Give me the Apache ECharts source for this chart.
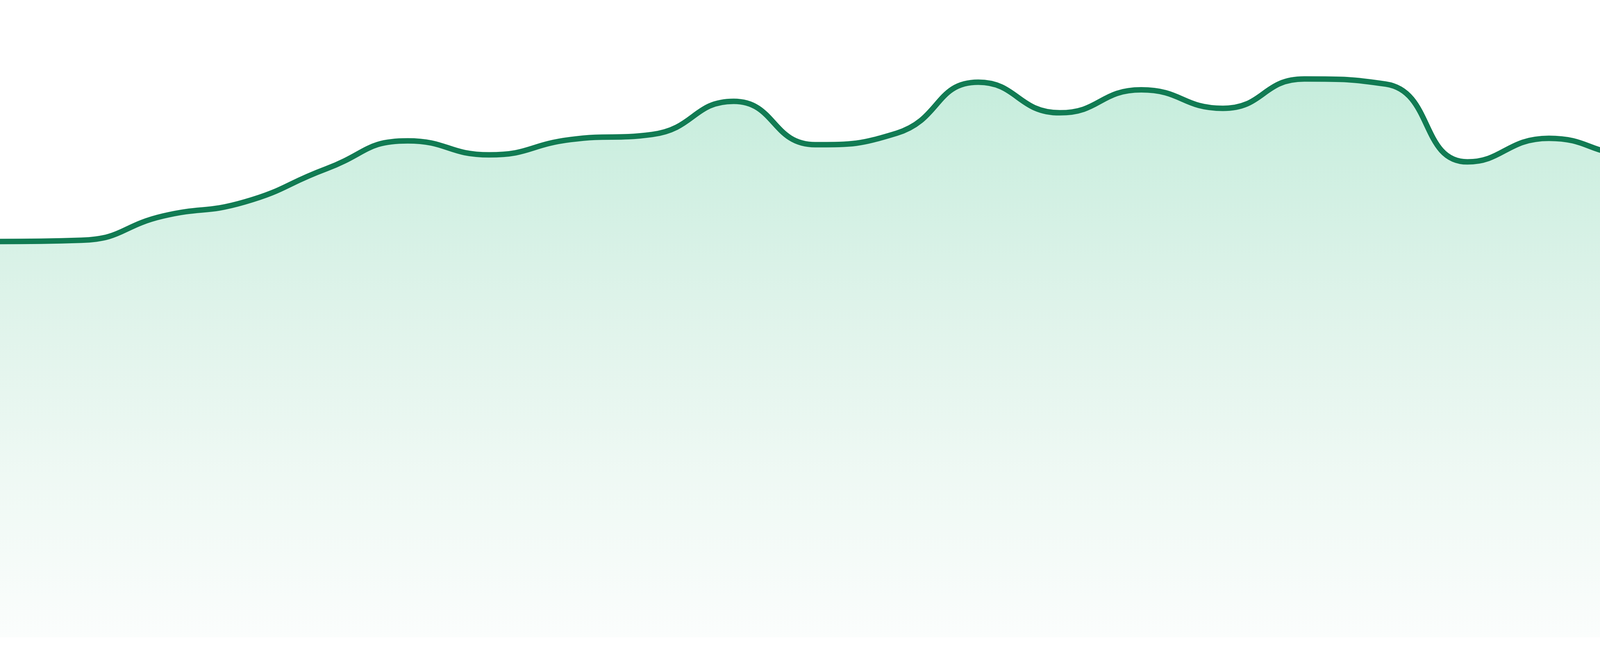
<!DOCTYPE html>
<html>
<head>
<meta charset="utf-8">
<style>
html, body { margin: 0; padding: 0; background: #ffffff; }
#chart { width: 4800px; height: 1680px; }
</style>
<script src="https://cdn.jsdelivr.net/npm/echarts@6/dist/echarts.min.js"></script>
</head>
<body>
<div id="chart"></div>
<script>
const categories = ['1','2','3','4','5','6','7','8','9','10','11','12','13','14','15','16','17','18','19','20','21','22','23','24'];
const values = [62.1, 62.3, 66.1, 68.3, 73.5, 77.9, 75.7, 78.1, 78.9, 84.1, 77.3, 79.1, 87.1, 82.3, 85.9, 83.0, 87.6, 86.8, 74.6, 78.3, 75.8, 78.5, 71.3, 64.6];

const chart = echarts.init(document.getElementById('chart'), null, { renderer: 'canvas' });
chart.setOption({
  animation: false,
  backgroundColor: '#ffffff',
  grid: { left: 0, right: 0, top: 0, bottom: 48, containLabel: false },
  xAxis: {
    type: 'category',
    data: categories,
    boundaryGap: false,
    show: false
  },
  yAxis: {
    type: 'value',
    min: 0,
    max: 100,
    show: false
  },
  series: [{
    type: 'line',
    data: values,
    smooth: true,
    symbol: 'none',
    lineStyle: { color: '#117b53', width: 14 },
    areaStyle: {
      color: new echarts.graphic.LinearGradient(0, 0, 0, 1, [
        { offset: 0, color: '#ade5cd' },
        { offset: 0.45, color: '#d4efe3' },
        { offset: 0.7, color: '#e7f6ef' },
        { offset: 1, color: '#f9fcfb' }
      ])
    }
  }]
});
</script>
</body>
</html>
